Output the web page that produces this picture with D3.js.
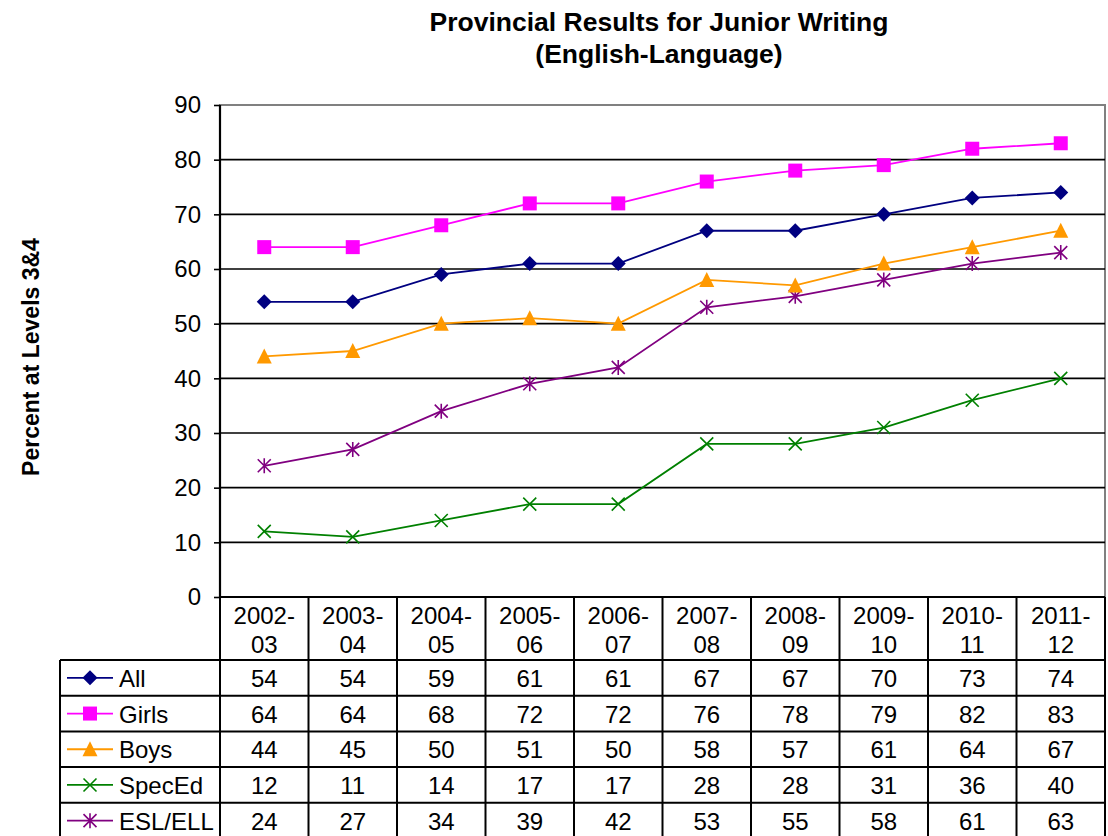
<!DOCTYPE html>
<html><head><meta charset="utf-8">
<script src="https://cdn.jsdelivr.net/npm/d3@7"></script>
<style>body{margin:0;background:#fff}svg{display:block;font-family:"Liberation Sans",Arial,sans-serif}</style>
</head><body><svg id="c" width="1108" height="836"></svg>
<script>
const categories = ["2002-03","2003-04","2004-05","2005-06","2006-07","2007-08","2008-09","2009-10","2010-11","2011-12"];
const seriesNames = ["All","Girls","Boys","SpecEd","ESL/ELL"];
const allValues = [54,54,59,61,61,67,67,70,73,74];
const girlsValues = [64,64,68,72,72,76,78,79,82,83];
const boysValues = [44,45,50,51,50,58,57,61,64,67];
const specEdValues = [12,11,14,17,17,28,28,31,36,40];
const eslValues = [24,27,34,39,42,53,55,58,61,63];
const yTicks = [0,10,20,30,40,50,60,70,80,90];
const colors = ["#000080","#FF00FF","#FF9900","#008000","#800080"];
const markers = ["diamond","square","triangle","x","star"];
const series = [allValues,girlsValues,boysValues,specEdValues,eslValues].map((v,i)=>({name:seriesNames[i],values:v,color:colors[i],marker:markers[i]}));

const FS=24;
const svg = d3.select("#c");
const L=220,R=1105,T=105,B=597;
const x = d3.scaleBand().domain(categories).range([L,R]);
const y = d3.scaleLinear().domain([0,90]).range([B,T]);
const cx = c => x(c)+x.bandwidth()/2;

// title
svg.append("text").attr("x",659).attr("y",31).attr("text-anchor","middle").attr("font-weight","bold").attr("font-size",26.5).text("Provincial Results for Junior Writing");
svg.append("text").attr("x",659).attr("y",63).attr("text-anchor","middle").attr("font-weight","bold").attr("font-size",26.5).text("(English-Language)");
svg.append("text").attr("transform","translate(39,357) rotate(-90)").attr("text-anchor","middle").attr("font-weight","bold").attr("font-size",23).text("Percent at Levels 3&4");

// plot border
svg.append("rect").attr("x",L).attr("y",T).attr("width",R-L).attr("height",B-T).attr("fill","none").attr("stroke","#808080").attr("stroke-width",2);
// gridlines
svg.append("g").selectAll("line").data(yTicks.filter(t=>t>0&&t<90)).join("line")
  .attr("x1",L).attr("x2",R).attr("y1",d=>y(d)).attr("y2",d=>y(d)).attr("stroke","#000").attr("stroke-width",1.6);
// y axis
const ya = svg.append("g").attr("transform",`translate(${L},0)`).call(d3.axisLeft(y).tickValues(yTicks).tickSize(6).tickPadding(13));
ya.select(".domain").remove();
ya.selectAll(".tick line").attr("stroke","#000").attr("stroke-width",1.6);
ya.selectAll("text").attr("font-size",FS).attr("font-family","Liberation Sans, Arial, sans-serif").attr("fill","#000");
svg.append("line").attr("x1",L).attr("x2",L).attr("y1",T).attr("y2",B).attr("stroke","#000").attr("stroke-width",2.2);
svg.append("line").attr("x1",L).attr("x2",R).attr("y1",B).attr("y2",B).attr("stroke","#000").attr("stroke-width",2.2);

// marker shapes
function drawMarker(g,type,color,px,py){
  if(type==="diamond"){
    g.append("path").attr("d",`M${px},${py-7.5}L${px+7.5},${py}L${px},${py+7.5}L${px-7.5},${py}Z`).attr("fill",color);
  } else if(type==="square"){
    g.append("rect").attr("x",px-7).attr("y",py-7).attr("width",14).attr("height",14).attr("fill",color);
  } else if(type==="triangle"){
    g.append("path").attr("d",`M${px},${py-8}L${px+7.5},${py+7}L${px-7.5},${py+7}Z`).attr("fill",color);
  } else if(type==="x"){
    g.append("path").attr("d",`M${px-6.5},${py-6.5}L${px+6.5},${py+6.5}M${px-6.5},${py+6.5}L${px+6.5},${py-6.5}`).attr("stroke",color).attr("stroke-width",1.6);
  } else if(type==="star"){
    g.append("path").attr("d",`M${px-6.5},${py-6.5}L${px+6.5},${py+6.5}M${px-6.5},${py+6.5}L${px+6.5},${py-6.5}M${px},${py-7.5}L${px},${py+7.5}`).attr("stroke",color).attr("stroke-width",1.6);
  }
}

const line = d3.line().x((d,i)=>cx(categories[i])).y(d=>y(d));
const order=[4,3,2,0,1];
order.forEach(si=>{
  const s=series[si];
  const g=svg.append("g");
  g.append("path").attr("d",line(s.values)).attr("fill","none").attr("stroke",s.color).attr("stroke-width",1.8);
  s.values.forEach((v,i)=>drawMarker(g,s.marker,s.color,cx(categories[i]),y(v)));
});

// data table
const TL=60, headerBottom=660, rowH=35.7;
const tb=svg.append("g");
categories.forEach(c=>{
  const parts=c.split("-");
  tb.append("text").attr("x",cx(c)).attr("y",624).attr("text-anchor","middle").attr("font-size",FS).text(parts[0]+"-");
  tb.append("text").attr("x",cx(c)).attr("y",653).attr("text-anchor","middle").attr("font-size",FS).text(parts[1]);
});
const tableBottom=headerBottom+rowH*series.length;
x.domain().forEach(c=>{
  tb.append("line").attr("x1",x(c)).attr("x2",x(c)).attr("y1",B).attr("y2",tableBottom).attr("stroke","#000").attr("stroke-width",2);
});
tb.append("line").attr("x1",R).attr("x2",R).attr("y1",B).attr("y2",tableBottom).attr("stroke","#000").attr("stroke-width",2);
tb.append("line").attr("x1",TL).attr("x2",TL).attr("y1",headerBottom).attr("y2",tableBottom).attr("stroke","#000").attr("stroke-width",2);
for(let r=0;r<=series.length;r++){
  const yy=headerBottom+r*rowH;
  tb.append("line").attr("x1",TL).attr("x2",R).attr("y1",yy).attr("y2",yy).attr("stroke","#000").attr("stroke-width",2);
}
series.forEach((s,r)=>{
  const ym=headerBottom+r*rowH+rowH/2;
  tb.append("line").attr("x1",67).attr("x2",113).attr("y1",ym).attr("y2",ym).attr("stroke",s.color).attr("stroke-width",1.8);
  drawMarker(tb,s.marker,s.color,90,ym);
  tb.append("text").attr("x",119).attr("y",ym+9).attr("font-size",FS).text(s.name);
  s.values.forEach((v,i)=>{
    tb.append("text").attr("x",cx(categories[i])).attr("y",ym+9).attr("text-anchor","middle").attr("font-size",FS).text(v);
  });
});
</script></body></html>
